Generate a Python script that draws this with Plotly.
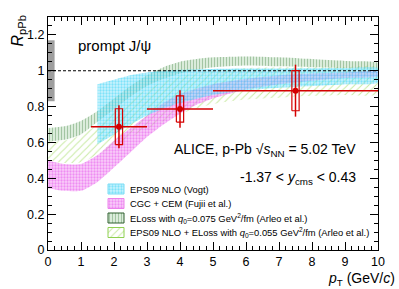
import plotly.graph_objects as go

# ---------------- data ----------------
# EPS09 NLO (Vogt)
eps09_pt = [1.5, 2, 2.5, 3, 3.5, 4, 5, 6, 7, 8, 9, 10]
eps09_hi = [0.925, 0.95, 0.975, 0.99, 1.0, 1.005, 1.01, 1.012, 1.013, 1.014, 1.015, 1.015]
eps09_lo = [0.59, 0.645, 0.70, 0.75, 0.79, 0.82, 0.865, 0.89, 0.905, 0.915, 0.925, 0.935]

# CGC + CEM (Fujii et al.)
cgc_pt = [0, 0.5, 1, 1.5, 2, 2.5, 3, 3.5, 4, 4.5, 5, 6, 7, 8, 9, 10]
cgc_hi = [0.50, 0.48, 0.48, 0.53, 0.61, 0.68, 0.75, 0.82, 0.87, 0.90, 0.925, 0.955, 0.975, 0.985, 0.99, 0.995]
cgc_lo = [0.345, 0.33, 0.33, 0.38, 0.46, 0.545, 0.63, 0.70, 0.76, 0.81, 0.845, 0.895, 0.925, 0.945, 0.96, 0.97]

# ELoss with q0 = 0.075 (Arleo et al.)
eloss_pt = [0, 0.5, 1, 1.5, 2, 2.5, 3, 3.5, 4, 4.5, 5, 6, 7, 8, 9, 10]
eloss_hi = [0.68, 0.69, 0.72, 0.775, 0.845, 0.915, 0.975, 1.02, 1.05, 1.065, 1.075, 1.08, 1.075, 1.065, 1.055, 1.045]
eloss_lo = [0.605, 0.615, 0.645, 0.715, 0.785, 0.855, 0.915, 0.955, 0.985, 1.005, 1.02, 1.03, 1.025, 1.02, 1.015, 1.015]

# EPS09 NLO + ELoss with q0 = 0.055 (Arleo et al.)
epsel_pt = [0, 0.5, 1, 1.5, 2, 2.5, 3, 3.5, 4, 5, 6, 7, 8, 9, 10]
epsel_hi = [0.605, 0.61, 0.64, 0.70, 0.77, 0.84, 0.895, 0.94, 0.97, 1.0, 1.015, 1.02, 1.02, 1.02, 1.02]
epsel_lo = [0.50, 0.485, 0.49, 0.53, 0.58, 0.63, 0.675, 0.72, 0.76, 0.815, 0.84, 0.85, 0.86, 0.865, 0.87]

# ALICE prompt J/psi data
pt = [2.15, 4.0, 7.5]
pt_lo = [1.3, 3.0, 5.0]
pt_hi = [3.0, 5.0, 10.0]
R = [0.688, 0.787, 0.889]
stat = [0.12, 0.105, 0.145]
syst = [0.10, 0.073, 0.112]
global_unc = 0.17

legend_labels = [
    "EPS09 NLO (Vogt)",
    "CGC + CEM (Fujii et al.)",
    "ELoss with <i>q</i><sub>0</sub>=0.075 GeV<sup>2</sup>/fm (Arleo et al.)",
    "EPS09 NLO + ELoss with <i>q</i><sub>0</sub>=0.055 GeV<sup>2</sup>/fm (Arleo et al.)",
]

# ---------------- styles ----------------
FONT = "Liberation Sans, Arial, Helvetica, sans-serif"
RED = "#d40000"
styles = [
    dict(pattern=dict(shape=".", fgcolor="rgba(30,205,245,0.9)", bgcolor="rgba(140,228,250,0.45)", size=3, solidity=0.45)),
    dict(pattern=dict(shape=".", fgcolor="rgba(225,60,230,0.9)", bgcolor="rgba(243,160,245,0.5)", size=3, solidity=0.45)),
    dict(pattern=dict(shape="|", fgcolor="rgba(45,115,45,0.65)", bgcolor="rgba(150,200,150,0.35)", size=3, solidity=0.35)),
    dict(pattern=dict(shape="/", fgcolor="rgba(140,210,60,0.95)", bgcolor="rgba(255,255,255,0)", size=5, solidity=0.2)),
]
legend_border = ["rgba(120,220,245,1)", "rgba(235,130,235,1)", "#2f5f2f", "#8fd050"]

fig = go.Figure()

bands = [(eps09_pt, eps09_hi, eps09_lo), (cgc_pt, cgc_hi, cgc_lo),
         (eloss_pt, eloss_hi, eloss_lo), (epsel_pt, epsel_hi, epsel_lo)]
order = [3, 1, 2, 0]
for i in order:
    x, hi, lo = bands[i]
    fig.add_trace(go.Scatter(
        x=list(x) + list(x)[::-1], y=list(hi) + list(lo)[::-1],
        mode="lines", fill="toself", fillpattern=styles[i]["pattern"],
        line=dict(width=0, color="rgba(0,0,0,0)", shape="spline", smoothing=0.6),
        showlegend=False, hoverinfo="skip"))

# global uncertainty box
gw = 0.2
fig.add_trace(go.Scatter(
    x=[0, gw, gw, 0, 0],
    y=[1 - global_unc, 1 - global_unc, 1 + global_unc, 1 + global_unc, 1 - global_unc],
    mode="lines", fill="toself", fillcolor="#9e9e9e", line=dict(width=0),
    showlegend=False, hoverinfo="skip"))

# unity line
fig.add_trace(go.Scatter(x=[0, 10], y=[1, 1], mode="lines",
                         line=dict(color="black", width=1.2, dash="3px,2px"),
                         showlegend=False, hoverinfo="skip"))

# systematic boxes
bw = 0.11
bx, by = [], []
for p, r, s in zip(pt, R, syst):
    bx += [p - bw, p + bw, p + bw, p - bw, p - bw, None]
    by += [r - s, r - s, r + s, r + s, r - s, None]
fig.add_trace(go.Scatter(x=bx, y=by, mode="lines", line=dict(color=RED, width=1.2),
                         showlegend=False, hoverinfo="skip"))

# data points
fig.add_trace(go.Scatter(
    x=pt, y=R, mode="markers",
    marker=dict(color=RED, size=6),
    error_y=dict(type="data", array=stat, color=RED, thickness=1.5, width=0),
    error_x=dict(type="data", array=[h - p for h, p in zip(pt_hi, pt)],
                 arrayminus=[p - l for p, l in zip(pt, pt_lo)],
                 color=RED, thickness=1.5, width=0),
    showlegend=False))

# manual legend on pixel-scaled overlay axes
PW, PH = 330, 233
rows = [61, 46.5, 32, 17.5]
for i, yc in enumerate(rows):
    fig.add_trace(go.Scatter(
        x=[60, 76, 76, 60, 60], y=[yc - 5, yc - 5, yc + 5, yc + 5, yc - 5],
        xaxis="x2", yaxis="y2", mode="lines", fill="toself",
        fillpattern=styles[i]["pattern"], line=dict(width=1, color=legend_border[i]),
        showlegend=False, hoverinfo="skip"))
    fig.add_annotation(x=80, y=yc, xref="x2", yref="y2", text=legend_labels[i],
                       showarrow=False, xanchor="left", yanchor="middle",
                       font=dict(family=FONT, size=9.4, color="black"))

axis_common = dict(showline=True, linecolor="black", linewidth=1, mirror="allticks",
                   ticks="inside", ticklen=8, tickcolor="black", tickwidth=1,
                   showgrid=False, zeroline=False, automargin=False,
                   tickfont=dict(family=FONT, size=12.5, color="black"))

fig.update_layout(
    width=399, height=289,
    margin=dict(l=48, r=21, t=17, b=39, autoexpand=False),
    paper_bgcolor="white", plot_bgcolor="white",
    font=dict(family=FONT, color="black"),
    xaxis=dict(range=[0, 10], dtick=1, tick0=0,
               minor=dict(dtick=0.2, ticklen=4, ticks="inside", tickcolor="black"),
               **axis_common),
    yaxis=dict(range=[0, 1.3], dtick=0.2, tick0=0,
               minor=dict(dtick=0.05, ticklen=4, ticks="inside", tickcolor="black"),
               **axis_common),
    xaxis2=dict(range=[0, PW], overlaying="x", visible=False, fixedrange=True),
    yaxis2=dict(range=[0, PH], overlaying="y", visible=False, fixedrange=True),
    showlegend=False,
)

def px2paper_x(px):
    return (px - 48) / PW

def px2paper_y(py):
    return (250 - py) / PH

texts = [
    dict(x=px2paper_x(76), y=px2paper_y(45), text="prompt J/ψ", xanchor="left", yanchor="middle", size=15),
    dict(x=px2paper_x(358), y=px2paper_y(150), text="ALICE, p-Pb √<i>s</i><sub>NN</sub> = 5.02 TeV",
         xanchor="right", yanchor="middle", size=14),
    dict(x=px2paper_x(358), y=px2paper_y(178), text="-1.37 < <i>y</i><sub>cms</sub> < 0.43",
         xanchor="right", yanchor="middle", size=14),
]
for t in texts:
    fig.add_annotation(x=t["x"], y=t["y"], xref="paper", yref="paper", text=t["text"],
                       showarrow=False, xanchor=t["xanchor"], yanchor=t["yanchor"],
                       font=dict(family=FONT, size=t["size"], color="black"))

# axis titles
fig.add_annotation(x=px2paper_x(18), y=px2paper_y(14), xref="paper", yref="paper",
                   text="<i>R</i><sub>pPb</sub>", textangle=-90, showarrow=False,
                   xanchor="center", yanchor="top", font=dict(family=FONT, size=16, color="black"))
fig.add_annotation(x=px2paper_x(397), y=px2paper_y(268), xref="paper", yref="paper",
                   text="<i>p</i><sub>T</sub> (GeV/<i>c</i>)", showarrow=False,
                   xanchor="right", yanchor="top", font=dict(family=FONT, size=14, color="black"))

fig.write_html("out.html", config={"displayModeBar": False},
               post_script="document.body.style.margin='0';document.body.style.overflow='hidden';")
